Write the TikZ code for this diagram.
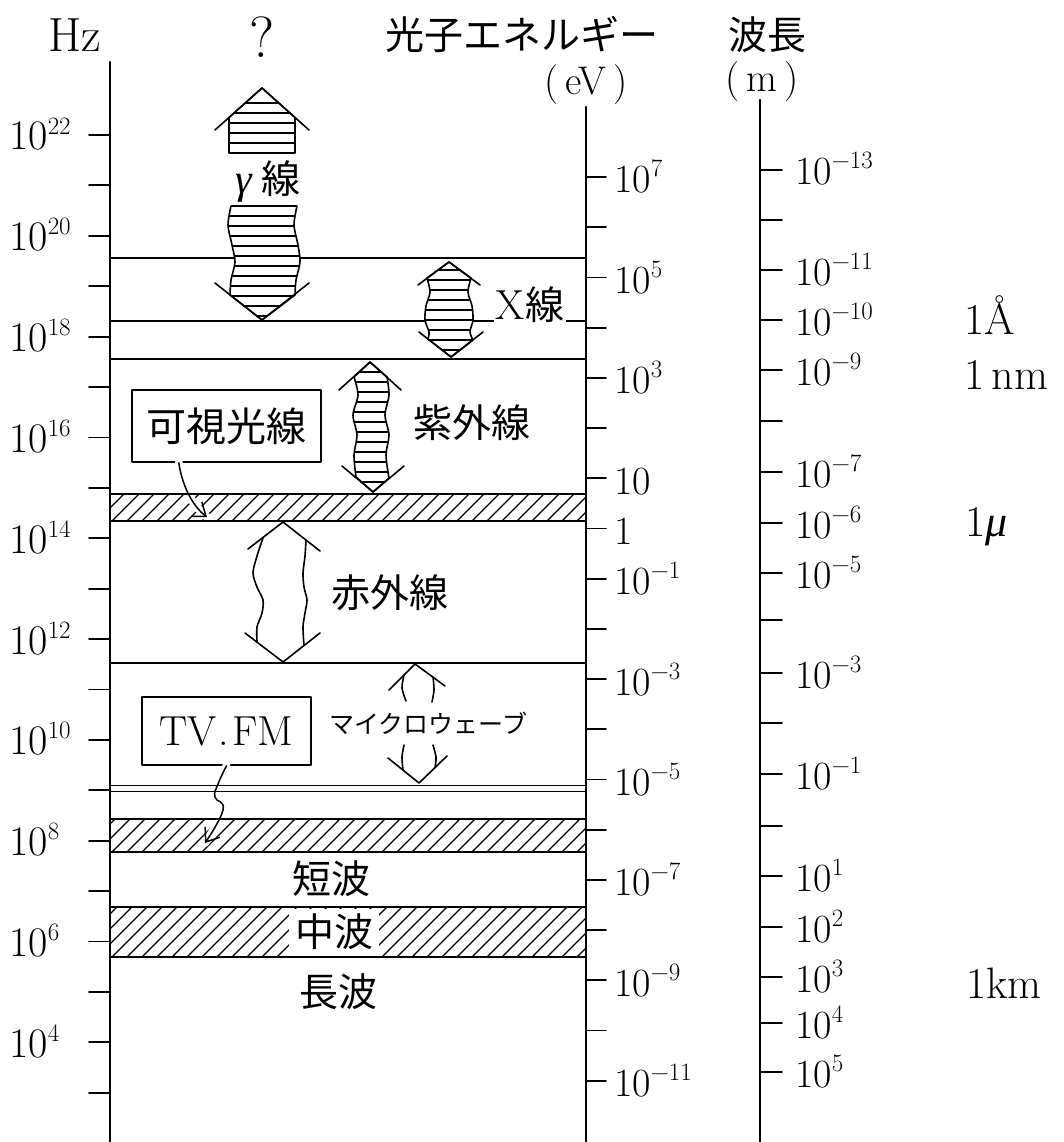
\documentclass[tikz,border=0pt]{standalone}
\usepackage{fontspec}
\newfontfamily\jp{Noto Sans CJK JP}
\newfontfamily\grk{Liberation Serif}
\usetikzlibrary{arrows.meta,calc}
\newcommand\pw[2]{#1\raisebox{16pt}{\fontsize{25}{25}\selectfont #2}}
\newcommand\hatchshape[4]{%
  \fill[white] #1;
  \begin{scope}\clip #1;
    \foreach \yy in {#2,#3,...,#4} \draw[hln] (150,\yy) -- (560,\yy);
  \end{scope}
  \draw[arrln] #1;}
\begin{document}
\begin{tikzpicture}[x=1pt,y=-1pt,line cap=round,line join=round,
  axisln/.style={line width=2.2pt},
  tickln/.style={line width=1.8pt},
  bandln/.style={line width=1.6pt},
  hatchln/.style={line width=1.3pt},
  arrln/.style={line width=1.6pt},
  hln/.style={line width=1.3pt},
  numlbl/.style={inner sep=0pt,anchor=base west,font=\fontsize{42}{44}\selectfont},
  rnumlbl/.style={inner sep=0pt,anchor=base west,font=\fontsize{40}{42}\selectfont},
  unitlbl/.style={inner sep=0pt,anchor=base west,font=\fontsize{44}{46}\selectfont},
  jptext/.style={inner sep=1pt,font=\jp\fontsize{39}{42}\selectfont},
  labbox/.style={draw,line width=1.8pt,inner sep=0pt,fill=white},
  ptr/.style={line width=1.5pt,-{Straight Barb[length=12pt,width=18pt,line width=1.5pt]}},
  halo/.style={preaction={draw=white,line width=8pt,-}}
]
\useasboundingbox (0,0) rectangle (1063,1142);

% ---------- headers
\node[font=\fontsize{48}{50}\selectfont,inner sep=0pt] (hz) at (75,35) {Hz};
\node[font=\fontsize{58}{60}\selectfont,inner sep=0pt] (qm) at (262,37) {?};
\node[jptext,anchor=west,inner sep=0pt] (ene) at (385,35) {光子エネルギー};
\node[font=\fontsize{40}{42}\selectfont,inner sep=0pt] (evu) at (586,85) {(\,eV\,)};
\node[jptext,inner sep=0pt] (hacho) at (767,35) {波長};
\node[font=\fontsize{40}{42}\selectfont,inner sep=0pt] (mu) at (762,82) {(\,m\,)};

% ---------- axes
\draw[axisln] (110,62) coordinate (hzT) -- (110,1142) coordinate (hzB);
\draw[axisln] (586,107) coordinate (evT) -- (586,1142) coordinate (evB);
\draw[axisln] (760,100) coordinate (wlT) -- (760,1142) coordinate (wlB);

% Hz ticks and labels
\foreach \n in {3,...,22}{
  \pgfmathsetmacro\yy{135+(22-\n)*50.4}
  \draw[tickln] (89,\yy) -- (110,\yy);
}
\foreach \n in {4,6,...,22}{
  \pgfmathsetmacro\yy{135+(22-\n)*50.4+15}
  \node[numlbl] (hz\n) at (9,\yy) {\pw{10}{\n}};
}

% eV ticks and labels
\foreach \m in {-11,...,7}{
  \pgfmathsetmacro\yy{177+(7-\m)*50.2}
  \draw[tickln] (586,\yy) -- (606,\yy);
}
\foreach \m/\t in {7/{\pw{10}{7}},5/{\pw{10}{5}},3/{\pw{10}{3}},1/{10},0/{1},
  -1/{\pw{10}{−1}},-3/{\pw{10}{−3}},-5/{\pw{10}{−5}},-7/{\pw{10}{−7}},
  -9/{\pw{10}{−9}},-11/{\pw{10}{−11}}}{
  \pgfmathsetmacro\yy{177+(7-\m)*50.2+16}
  \node[rnumlbl] (ev\m) at (614,\yy) {\t};
}

% wavelength ticks and labels
\foreach \yy in {170,220,270,320,370,421,472,523,573,620,673,723,774,826,876,927,977,1023,1072}{
  \draw[tickln] (760,\yy) -- (782,\yy);
}
\foreach \yy/\t in {170/−13,270/−11,320/−10,370/−9,472/−7,523/−6,573/−5,673/−3,774/−1,
  876/1,927/2,977/3,1023/4,1072/5}{
  \node[rnumlbl] (wl\yy) at (795,\yy+15) {\pw{10}{\t}};
}

% unit notes
\node[unitlbl] (ang) at (964,334) {1Å};
\node[unitlbl] (nm) at (964,389) {1\,nm};
\node[unitlbl] (mic) at (965,536) {1{\grk\itshape μ}};
\node[unitlbl] (km) at (966,998) {1km};

% ---------- hatched bands
\foreach \yt/\yb in {494/521,819/852,907/957}{
  \begin{scope}
    \clip (110,\yt) rectangle (586,\yb);
    \foreach \xx in {50,65,...,600} \draw[hatchln] (\xx,\yb+2) -- ++(62,-62);
  \end{scope}
}
\node[jptext,fill=white,minimum width=90pt,minimum height=47pt,inner sep=0pt] (chuha) at (334,932) {中波};

% ---------- label boxes and pointers
\node[labbox,minimum width=189pt,minimum height=72pt,font=\jp\fontsize{40}{42}\selectfont] (vis) at (226.5,426) {可視光線};
\node[labbox,minimum width=169pt,minimum height=68pt,font=\fontsize{42}{44}\selectfont] (tv) at (226.5,731) {TV\kern2pt.\kern3pt FM};
\draw[ptr,halo] ($(vis.south west)!0.25!(vis.south east)$) .. controls (183,490) and (195,508) .. (207,517);
\draw[ptr,halo] plot[smooth,tension=0.8] coordinates {(tv.south) (218,784) (215,797) (223,810) (205,843)};

% ---------- band outlines
\draw[bandln] (110,494) rectangle (586,521);
\draw[bandln] (110,819) rectangle (586,852);
\draw[bandln] (110,907) rectangle (586,957);
\foreach \yy in {258,321,359,663,785.5,791.5}
  \draw[bandln] (110,\yy) -- (586,\yy);

% ---------- gamma arrow
\hatchshape{(262,88) -- (295,117.5) -- (295,153) -- (229,153) -- (229,117.5) -- cycle}{103}{113}{143}
\draw[arrln] (215,130) -- (262,88) -- (309,130);
\hatchshape{(231,206) -- plot[smooth] coordinates {(297,206) (294,225) (298,245) (300,262) (296,280) (295,295)} -- (262,320) -- plot[smooth] coordinates {(230,295) (231,280) (235,262) (232,245) (228,225) (231,206)} -- cycle}{216}{226}{316}
\draw[arrln] (215,283) -- (262,320) -- (309,283);
\node[inner sep=0pt] (gam) at (268,182) {{\grk\itshape\fontsize{42}{44}\selectfont γ}\kern10pt{\jp\fontsize{39}{42}\selectfont 線}};

% ---------- X-ray arrow
\hatchshape{(449,262) -- plot[smooth] coordinates {(471,278) (468,292) (472,306) (473,320) (470,332) (473,340)} -- (451,357) -- plot[smooth] coordinates {(428,339) (429,332) (425,320) (426,306) (430,292) (427,278)} -- cycle}{270}{280}{350}
\draw[arrln] (418,285) -- (449,262) -- (480,285);
\draw[arrln] (419,332) -- (451,357) -- (483,332);
\node[fill=white,inner sep=2pt] (xsen) at (530,305) {{\fontsize{42}{44}\selectfont X}{\jp\fontsize{39}{42}\selectfont 線}};

% ---------- UV arrow
\hatchshape{(370,362) -- plot[smooth] coordinates {(387,377) (389,395) (385,415) (389,435) (386,455) (389,478)} -- (373,492) -- plot[smooth] coordinates {(356,477) (354,455) (357,435) (353,415) (358,395) (354,377)} -- cycle}{372}{382}{492}
\draw[arrln] (339,390) -- (370,362) -- (401,390);
\draw[arrln] (342,466) -- (373,492) -- (404,466);
\node[jptext] (uv) at (472,423) {紫外線};

% ---------- IR arrow
\draw[arrln] (248,549) -- (283,522) -- (320,551);
\draw[arrln] plot[smooth] coordinates {(263,538) (257,556) (253,573) (257,587) (263,600) (262,613) (257,627) (257,641)};
\draw[arrln] plot[smooth] coordinates {(306,540) (305,556) (303,573) (304,587) (307,600) (305,613) (303,627) (304,645)};
\draw[arrln] (245,633) -- (283,662) -- (320,633);
\node[jptext] (ir) at (390,593) {赤外線};

% ---------- microwave arrow
\draw[arrln] (389,690) -- (415,664) -- (445,686);
\draw[arrln] plot[smooth] coordinates {(404,675) (402,688) (406,701)};
\draw[arrln] plot[smooth] coordinates {(433,677) (434,690) (432,702)};
\draw[arrln] plot[smooth] coordinates {(404,745) (402,757) (403,770)};
\draw[arrln] plot[smooth] coordinates {(433,745) (436,757) (435,768)};
\draw[arrln] (388,758) -- (419,783) -- (447,756);
\node[inner sep=0pt,font=\jp\fontsize{25}{27}\selectfont] (mw) at (428,723) {マイクロウェーブ};

% ---------- radio labels
\node[jptext] (tanpa) at (331,879) {短波};
\node[jptext] (choha) at (338,992) {長波};
\end{tikzpicture}
\end{document}
